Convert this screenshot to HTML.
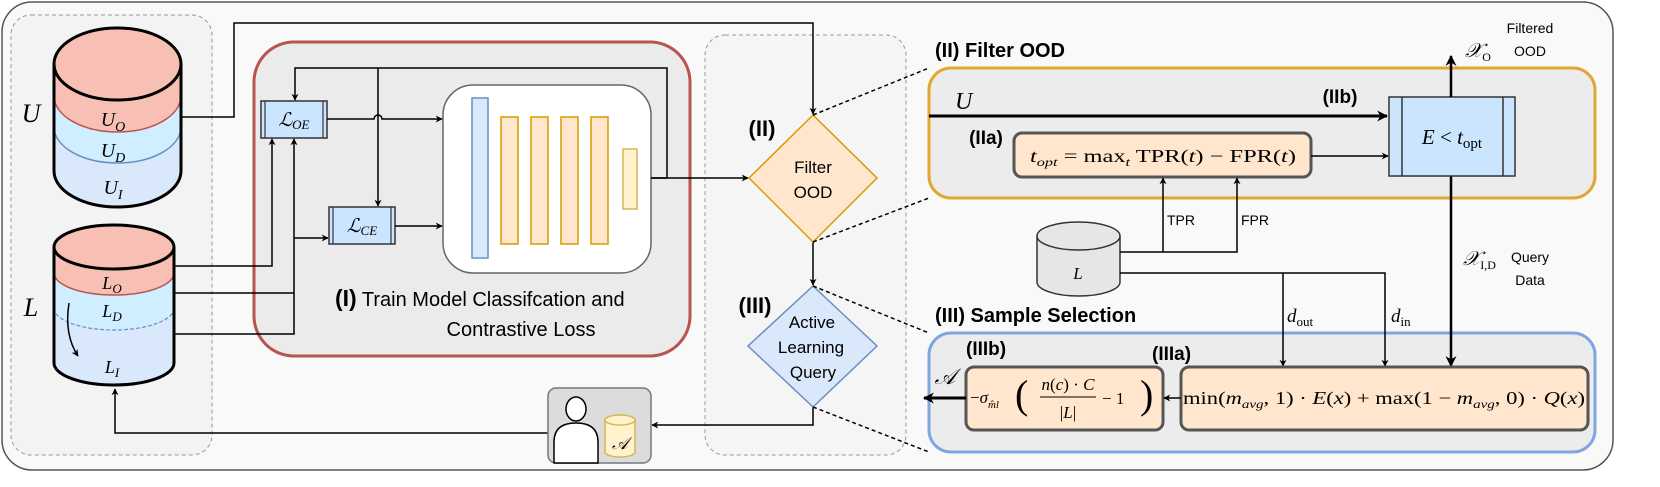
<!DOCTYPE html>
<html><head><meta charset="utf-8"><style>
html,body{margin:0;padding:0;background:#fff}
svg{display:block}
.s{font-family:"Liberation Sans",sans-serif}
.m{font-family:"Liberation Serif",serif;font-style:italic}
.r{font-family:"Liberation Serif",serif}
</style></head><body>
<svg width="1660" height="487" viewBox="0 0 1660 487" xmlns="http://www.w3.org/2000/svg">
<defs>
<marker id="a" viewBox="0 0 10 10" refX="9" refY="5" markerWidth="7" markerHeight="7" orient="auto-start-reverse" markerUnits="userSpaceOnUse"><path d="M0,0 L10,5 L0,10 L3,5 z" fill="#000"/></marker>
<marker id="b" viewBox="0 0 10 10" refX="9" refY="5" markerWidth="11" markerHeight="11" orient="auto-start-reverse" markerUnits="userSpaceOnUse"><path d="M0,0 L10,5 L0,10 L3,5 z" fill="#000"/></marker>
</defs>
<rect x="2" y="2" width="1611" height="468" rx="30" fill="#f9f9f9" stroke="#555" stroke-width="1.5"/>
<rect x="11" y="15" width="201" height="440" rx="20" fill="#f3f3f3" stroke="#999" stroke-dasharray="4 3"/>
<rect x="705" y="35" width="201" height="420" rx="20" fill="#f5f5f5" stroke="#999" stroke-dasharray="4 3"/>

<path d="M54,64 L54,171 A63.5,36 0 0 0 181,171 L181,64 Z" fill="#dae8fc"/>
<path d="M54,64 L54,127 A63.5,36 0 0 0 181,127 L181,64 Z" fill="#cfeeff"/>
<path d="M54,127 A63.5,36 0 0 0 181,127" fill="none" stroke="#6c8ebf" stroke-width="1.5"/>
<path d="M54,64 L54,96 A63.5,36 0 0 0 181,96 L181,64 Z" fill="#f8bfb5"/>
<path d="M54,96 A63.5,36 0 0 0 181,96" fill="none" stroke="#b85450" stroke-width="1.5"/>
<ellipse cx="117.5" cy="64" rx="63.5" ry="36" fill="#f8bfb5" stroke="#000" stroke-width="3"/>
<path d="M54,64 L54,171 A63.5,36 0 0 0 181,171 L181,64" fill="none" stroke="#000" stroke-width="3"/>
<text x="31" y="122" class="m" font-size="26" text-anchor="middle">U</text>
<text x="113" y="126" class="m" font-size="20" text-anchor="middle">U<tspan font-size="14" dy="5">O</tspan></text>
<text x="113" y="157" class="m" font-size="20" text-anchor="middle">U<tspan font-size="14" dy="5">D</tspan></text>
<text x="113" y="194" class="m" font-size="20" text-anchor="middle">U<tspan font-size="14" dy="5">I</tspan></text>

<path d="M54,247 L54,363 A60,22 0 0 0 174,363 L174,247 Z" fill="#dae8fc"/>
<path d="M54,247 L54,308 A60,22 0 0 0 174,308 L174,247 Z" fill="#cfeeff"/>
<path d="M54,308 A60,22 0 0 0 174,308" fill="none" stroke="#6c8ebf" stroke-width="1.2" stroke-dasharray="4 2"/>
<path d="M54,247 L54,273 A60,22 0 0 0 174,273 L174,247 Z" fill="#f8bfb5"/>
<path d="M54,273 A60,22 0 0 0 174,273" fill="none" stroke="#b85450" stroke-width="1.5"/>
<ellipse cx="114" cy="247" rx="60" ry="22" fill="#f8bfb5" stroke="#000" stroke-width="3"/>
<path d="M54,247 L54,363 A60,22 0 0 0 174,363 L174,247" fill="none" stroke="#000" stroke-width="3"/>
<text x="31" y="316" class="m" font-size="26" text-anchor="middle">L</text>
<text x="112" y="289" class="m" font-size="18" text-anchor="middle">L<tspan font-size="13" dy="4">O</tspan></text>
<text x="112" y="317" class="m" font-size="18" text-anchor="middle">L<tspan font-size="13" dy="4">D</tspan></text>
<text x="112" y="373" class="m" font-size="18" text-anchor="middle">L<tspan font-size="13" dy="4">I</tspan></text>
<path d="M69,303 Q64,335 78,356" fill="none" stroke="#000" stroke-width="1.5" marker-end="url(#a)"/>

<rect x="254" y="42" width="436" height="314" rx="40" fill="#ebebeb" stroke="#b85450" stroke-width="3"/>
<rect x="443" y="85" width="208" height="188" rx="30" fill="#fff" stroke="#666" stroke-width="1.5"/>
<rect x="472" y="98" width="16" height="160" fill="#dae8fc" stroke="#6c8ebf" stroke-width="1.5"/>
<rect x="501" y="117" width="17" height="127" fill="#ffe6cc" stroke="#d79b00" stroke-width="1.5"/>
<rect x="531" y="117" width="17" height="127" fill="#ffe6cc" stroke="#d79b00" stroke-width="1.5"/>
<rect x="561" y="117" width="17" height="127" fill="#ffe6cc" stroke="#d79b00" stroke-width="1.5"/>
<rect x="591" y="117" width="17" height="127" fill="#ffe6cc" stroke="#d79b00" stroke-width="1.5"/>
<rect x="623" y="149" width="14" height="60" fill="#fff2cc" stroke="#d6b656" stroke-width="1.5"/>

<rect x="261" y="101" width="66" height="37" fill="#cce5ff" stroke="#333" stroke-width="1.5"/>
<line x1="265" y1="101" x2="265" y2="138" stroke="#333" stroke-width="1.2"/>
<line x1="323" y1="101" x2="323" y2="138" stroke="#333" stroke-width="1.2"/>
<text x="294" y="126" class="m" font-size="19" text-anchor="middle">ℒ<tspan font-size="13" dy="3">OE</tspan></text>
<rect x="329" y="207" width="66" height="37" fill="#cce5ff" stroke="#333" stroke-width="1.5"/>
<line x1="333" y1="207" x2="333" y2="244" stroke="#333" stroke-width="1.2"/>
<line x1="391" y1="207" x2="391" y2="244" stroke="#333" stroke-width="1.2"/>
<text x="362" y="232" class="m" font-size="19" text-anchor="middle">ℒ<tspan font-size="13" dy="3">CE</tspan></text>

<g fill="none" stroke="#000" stroke-width="1.5">
<path d="M651,178 L667,178 L667,68 L295,68 L295,100" marker-end="url(#a)"/>
<path d="M378,68 L378,206" marker-end="url(#a)"/>
<path d="M327,119 L374,119 A4,4 0 0 1 382,119 L442,119" marker-end="url(#a)"/>
<path d="M395,226 L442,226" marker-end="url(#a)"/>
<path d="M174,266 L272,266 L272,139" marker-end="url(#a)"/>
<path d="M174,293 L294,293 L294,139" marker-end="url(#a)"/>
<path d="M174,334 L294,334 L294,293"/>
<path d="M294,238 L328,238" marker-end="url(#a)"/>
<path d="M651,178 L748,178" marker-end="url(#a)"/>
<path d="M181,117 L234,117 L234,23 L813,23 L813,114" marker-end="url(#a)"/>
<path d="M813,242 L813,285" marker-end="url(#a)"/>
<path d="M813,407 L813,425 L652,425" marker-end="url(#a)"/>
<path d="M548,433 L115,433 L115,389" marker-end="url(#a)"/>
</g>
<text x="335" y="306" class="s" font-size="20"><tspan font-weight="bold" font-size="23">(I)</tspan> Train Model Classifcation and</text>
<text x="521" y="336" class="s" font-size="20" text-anchor="middle">Contrastive Loss</text>

<rect x="548" y="388" width="103" height="75" rx="8" fill="#dcdcdc" stroke="#777" stroke-width="1.5"/>
<ellipse cx="576" cy="409" rx="10" ry="12" fill="#fff" stroke="#000" stroke-width="1.5"/>
<path d="M554,463 L554,442 Q554,423 576,423 Q598,423 598,442 L598,463 Z" fill="#fff" stroke="#000" stroke-width="1.5"/>
<path d="M605,420 L605,452 A15,5 0 0 0 635,452 L635,420" fill="#fff2cc" stroke="#d6b656" stroke-width="1.5"/>
<ellipse cx="620" cy="420" rx="15" ry="5" fill="#fff2cc" stroke="#d6b656" stroke-width="1.5"/>
<text x="620" y="449" class="m" font-size="17" text-anchor="middle">𝒜</text>

<polygon points="813,115 877,178 813,242 749,178" fill="#ffe6cc" stroke="#d79b00" stroke-width="1.5"/>
<text x="813" y="173" class="s" font-size="17" text-anchor="middle">Filter</text>
<text x="813" y="198" class="s" font-size="17" text-anchor="middle">OOD</text>
<text x="762" y="136" class="s" font-size="22" font-weight="bold" text-anchor="middle">(II)</text>
<polygon points="813,286 877,346 813,407 748,346" fill="#dae8fc" stroke="#6c8ebf" stroke-width="1.5"/>
<text x="812" y="328" class="s" font-size="17" text-anchor="middle">Active</text>
<text x="811" y="353" class="s" font-size="17" text-anchor="middle">Learning</text>
<text x="813" y="378" class="s" font-size="17" text-anchor="middle">Query</text>
<text x="755" y="313" class="s" font-size="22" font-weight="bold" text-anchor="middle">(III)</text>

<g stroke="#000" stroke-width="1.5" stroke-dasharray="4 3">
<line x1="813" y1="115" x2="929" y2="68"/>
<line x1="813" y1="242" x2="929" y2="198"/>
<line x1="813" y1="286" x2="929" y2="333"/>
<line x1="813" y1="407" x2="929" y2="452"/>
</g>

<rect x="929" y="68" width="666" height="130" rx="22" fill="#ececec" stroke="#e0a82e" stroke-width="3"/>
<rect x="929" y="333" width="666" height="119" rx="22" fill="#ececec" stroke="#7ea6e0" stroke-width="3"/>
<text x="935" y="57" class="s" font-size="20" font-weight="bold">(II) Filter OOD</text>
<text x="955" y="109" class="m" font-size="24">U</text>
<path d="M929,116 L1387,116" stroke="#000" stroke-width="3" fill="none" marker-end="url(#b)"/>
<text x="1340" y="103" class="s" font-size="19" font-weight="bold" text-anchor="middle">(IIb)</text>
<path d="M1451,176 L1451,366" stroke="#000" stroke-width="2.5" fill="none" marker-end="url(#b)"/>
<rect x="1389" y="97" width="126" height="79" fill="#cce5ff" stroke="#333" stroke-width="1.5"/>
<line x1="1402" y1="97" x2="1402" y2="176" stroke="#333" stroke-width="1.5"/>
<line x1="1503" y1="97" x2="1503" y2="176" stroke="#333" stroke-width="1.5"/>
<text x="1452" y="144" class="m" font-size="21" text-anchor="middle">E <tspan class="r" font-style="normal">&lt;</tspan> t<tspan class="r" font-style="normal" font-size="15" dy="4">opt</tspan></text>
<path d="M1451,97 L1451,56" stroke="#000" stroke-width="2.5" fill="none" marker-end="url(#b)"/>
<text x="1478" y="57" class="m" font-size="20" text-anchor="middle">𝒳<tspan class="r" font-style="normal" font-size="12" dy="4">O</tspan></text>
<text x="1530" y="33" class="s" font-size="14" text-anchor="middle">Filtered</text>
<text x="1530" y="56" class="s" font-size="14" text-anchor="middle">OOD</text>
<text x="986" y="144" class="s" font-size="19" font-weight="bold" text-anchor="middle">(IIa)</text>
<rect x="1014" y="133" width="297" height="44" rx="8" fill="#ffe6cc" stroke="#555" stroke-width="3"/>
<text x="1030" y="162" class="r" font-size="18" textLength="266" lengthAdjust="spacingAndGlyphs"><tspan font-style="italic">t</tspan><tspan font-style="italic" font-size="12" dy="4">opt</tspan><tspan dy="-4"> = max</tspan><tspan font-style="italic" font-size="12" dy="4">t</tspan><tspan dy="-4"> TPR(</tspan><tspan font-style="italic">t</tspan>) − FPR(<tspan font-style="italic">t</tspan>)</text>
<path d="M1311,156 L1388,156" stroke="#000" stroke-width="1.5" fill="none" marker-end="url(#a)"/>

<path d="M1037,236 L1037,282 A41.5,14 0 0 0 1120,282 L1120,236" fill="#e6e6e6" stroke="#333" stroke-width="1.5"/>
<ellipse cx="1078.5" cy="236" rx="41.5" ry="14" fill="#e6e6e6" stroke="#333" stroke-width="1.5"/>
<text x="1078" y="279" class="m" font-size="17" text-anchor="middle">L</text>
<g fill="none" stroke="#000" stroke-width="1.5">
<path d="M1120,252 L1237,252 L1237,178" marker-end="url(#a)"/>
<path d="M1163,252 L1163,178" marker-end="url(#a)"/>
<path d="M1120,273 L1385,273 L1385,366" marker-end="url(#a)"/>
<path d="M1283,273 L1283,366" marker-end="url(#a)"/>
</g>
<text x="1167" y="225" class="s" font-size="14">TPR</text>
<text x="1241" y="225" class="s" font-size="14">FPR</text>
<text x="1287" y="322" class="m" font-size="19">d<tspan class="r" font-style="normal" font-size="13" dy="4">out</tspan></text>
<text x="1391" y="322" class="m" font-size="19">d<tspan class="r" font-style="normal" font-size="13" dy="4">in</tspan></text>
<text x="1463" y="265" class="m" font-size="20">𝒳<tspan class="r" font-style="normal" font-size="12" dy="4">I,D</tspan></text>
<text x="1530" y="262" class="s" font-size="14" text-anchor="middle">Query</text>
<text x="1530" y="285" class="s" font-size="14" text-anchor="middle">Data</text>

<text x="935" y="322" class="s" font-size="20" font-weight="bold">(III) Sample Selection</text>
<text x="966" y="355" class="s" font-size="19" font-weight="bold">(IIIb)</text>
<text x="1152" y="360" class="s" font-size="19" font-weight="bold">(IIIa)</text>
<rect x="966" y="367" width="197" height="63" rx="8" fill="#ffe6cc" stroke="#555" stroke-width="3"/>
<rect x="1181" y="367" width="407" height="63" rx="8" fill="#ffe6cc" stroke="#555" stroke-width="3"/>
<text x="1183" y="404" class="r" font-size="18" textLength="402" lengthAdjust="spacingAndGlyphs">min(<tspan font-style="italic">m</tspan><tspan font-style="italic" font-size="12" dy="4">avg</tspan><tspan dy="-4">, 1) · </tspan><tspan font-style="italic">E</tspan>(<tspan font-style="italic">x</tspan>) + max(1 − <tspan font-style="italic">m</tspan><tspan font-style="italic" font-size="12" dy="4">avg</tspan><tspan dy="-4">, 0) · </tspan><tspan font-style="italic">Q</tspan>(<tspan font-style="italic">x</tspan>)</text>
<path d="M1181,398 L1164,398" stroke="#000" stroke-width="1.5" fill="none" marker-end="url(#a)"/>
<text x="970" y="403" class="r" font-size="17">−<tspan font-style="italic">σ</tspan><tspan font-style="italic" font-size="11" dy="5">m̂l</tspan></text>
<text x="1015" y="408" class="r" font-size="40">(</text>
<text x="1068" y="390" class="r" font-size="17" text-anchor="middle"><tspan font-style="italic">n</tspan>(<tspan font-style="italic">c</tspan>) · <tspan font-style="italic">C</tspan></text>
<line x1="1040" y1="397" x2="1096" y2="397" stroke="#000" stroke-width="1"/>
<text x="1068" y="418" class="r" font-size="17" text-anchor="middle">|<tspan font-style="italic">L</tspan>|</text>
<text x="1102" y="404" class="r" font-size="17">− 1</text>
<text x="1140" y="408" class="r" font-size="40">)</text>
<path d="M966,398 L924,398" stroke="#000" stroke-width="3" fill="none" marker-end="url(#b)"/>
<text x="945" y="384" class="m" font-size="22" text-anchor="middle">𝒜</text>
</svg>
</body></html>
